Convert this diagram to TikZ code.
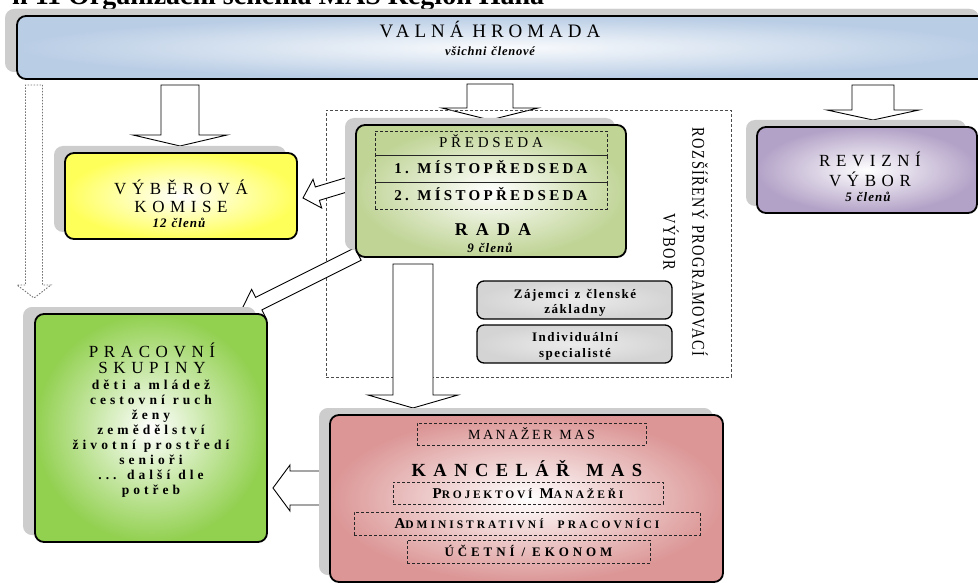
\documentclass[tikz,border=0pt]{standalone}
\usepackage{fontspec}
\setmainfont{Liberation Serif}
\newfontfamily\condf[FakeStretch=0.8,LetterSpace=8]{Liberation Serif}
\usetikzlibrary{shadows}
\definecolor{bannerc}{RGB}{185,205,229}
\definecolor{yellowc}{RGB}{255,255,90}
\definecolor{radac}{RGB}{192,212,150}
\definecolor{pracc}{RGB}{146,208,80}
\definecolor{kancc}{RGB}{220,150,150}
\definecolor{revc}{RGB}{179,162,199}
\definecolor{shadowc}{RGB}{205,205,205}
\definecolor{grayboxc}{RGB}{212,212,212}
\newcommand\fsc[2]{{\fontsize{15}{15}\selectfont #1}{\fontsize{11.5}{12}\selectfont #2}}
\newcommand\blockarr[8]{%
  \pgfmathsetmacro\bdx{#4-#2}%
  \pgfmathsetmacro\bmdy{#3-#5}%
  \pgfmathsetmacro\blen{veclen(\bdx,\bmdy)}%
  \pgfmathsetmacro\bang{atan2(\bmdy,\bdx)}%
  \pgfmathsetmacro\bneck{\blen-#8}%
  \begin{scope}[shift={(#2,#3)},rotate=\bang]
    \draw[#1] (0,-#6) -- (\bneck,-#6) -- (\bneck,-#7) -- (\blen,0) -- (\bneck,#7) -- (\bneck,#6) -- (0,#6) -- cycle;
  \end{scope}}
\tikzset{
  box/.style={draw=black, line width=1.8pt, rounded corners=9pt, inner sep=0pt,
    drop shadow={shadow xshift=-11pt, shadow yshift=7pt, fill=shadowc, opacity=1}},
  ttl/.style={inner sep=0pt, anchor=base, font={\fontsize{17}{20}\selectfont\addfontfeature{LetterSpace=33}}},
  cnt/.style={inner sep=0pt, anchor=base, font={\bfseries\itshape\fontsize{13}{14}\selectfont\addfontfeature{LetterSpace=8}\spaceskip=5pt\relax}},
  dbox/.style={draw=black!85, dash pattern=on 3pt off 2pt, line width=0.8pt, inner sep=0pt, text height=10pt, text depth=0pt},
  harrow/.style={draw=black, line width=0.9pt, fill=white, line join=miter},
  dotarrow/.style={draw=black!55, line width=0.9pt, dash pattern=on 1.5pt off 1.5pt},
  gbox/.style={draw=black, line width=1.3pt, rounded corners=7pt, inner sep=0pt, inner color=white!55!grayboxc, outer color=grayboxc},
  gtx/.style={inner sep=0pt, anchor=base, font={\bfseries\fontsize{13}{14}\selectfont\addfontfeature{LetterSpace=12}\spaceskip=6pt\relax}},
  pstx/.style={inner sep=0pt, anchor=base, font={\bfseries\fontsize{13.5}{14}\selectfont\addfontfeature{LetterSpace=30}\spaceskip=8pt\relax}},
}
\begin{document}
\begin{tikzpicture}[x=1pt,y=-1pt]
\useasboundingbox (0,0) rectangle (978,583);
% title (cut off at the top)
\node[anchor=base west, inner sep=0pt, font={\bfseries\fontsize{28}{30}\selectfont}] (title) at (12,5) {n 11 Organizační schéma MAS Region Haná};
% hollow arrows
\blockarr{dotarrow}{34}{85}{34}{298}{8.5}{17}{13}
\blockarr{harrow}{180}{85}{180}{146}{19}{47}{11}
\blockarr{harrow}{490}{84}{490}{120}{23}{48}{12}
\blockarr{harrow}{873}{85}{873}{120}{21}{46}{10}
% extended committee region
\node[draw=black!70, dash pattern=on 3pt off 2pt, line width=0.8pt, minimum width=405pt, minimum height=267pt, inner sep=0pt] (epv) at (528.5,243.5) {};
\node[rotate=-90, inner sep=0pt, font={\condf\fontsize{18}{18}\selectfont}] (epvt) at (700,242) {ROZŠÍŘENÝ PROGRAMOVACÍ};
\node[rotate=-90, inner sep=0pt, font={\condf\fontsize{18}{18}\selectfont}] (epvt2) at (671,242) {VÝBOR};
\blockarr{harrow}{356}{182}{303}{198}{7}{15}{15}
\blockarr{harrow}{358}{254}{240}{313}{7}{16}{21}
\blockarr{harrow}{413}{264}{413}{408}{20}{45}{13}
\blockarr{harrow}{328}{488}{273}{488}{17}{23}{17}
% Valna hromada
\node[box, drop shadow={shadow xshift=-12pt, shadow yshift=7pt, fill=shadowc, opacity=1}, minimum width=973pt, minimum height=63pt, inner color=white!92!bannerc, outer color=bannerc] (valna) at (503.5,47.5) {};
\node[inner sep=0pt, anchor=base, font={\fontsize{19}{22}\selectfont\addfontfeature{LetterSpace=26}\spaceskip=9pt\relax}] (valnat) at (490,38) {VALNÁ HROMADA};
\node[inner sep=0pt, anchor=base, font={\bfseries\itshape\fontsize{12.5}{13}\selectfont\addfontfeature{LetterSpace=6}\spaceskip=5pt\relax}] (valnac) at (490,56) {všichni členové};
% Vyberova komise
\node[box, minimum width=232pt, minimum height=86pt, inner color=white, outer color=yellowc] (vyb) at (181,196) {};
\node[ttl] (vybt1) at (181,194) {VÝBĚROVÁ};
\node[ttl] (vybt2) at (181,213) {KOMISE};
\node[cnt] (vybc) at (179,228) {12 členů};
% Revizni vybor
\node[box, minimum width=220pt, minimum height=86pt, inner color=white, outer color=revc] (rev) at (867,170) {};
\node[ttl] (revt1) at (870,167) {REVIZNÍ};
\node[ttl] (revt2) at (870,186) {VÝBOR};
\node[cnt] (revc) at (868,202) {5 členů};
% Rada
\node[box, minimum width=270pt, minimum height=132pt, inner color=white, outer color=radac] (rada) at (491,191) {};
\node[dbox, minimum width=232pt, minimum height=24pt, font={\fontsize{15}{15}\selectfont\addfontfeature{LetterSpace=25}}] (pred) at (491,143) {PŘEDSEDA};
\node[dbox, minimum width=232pt, minimum height=27pt, font={\bfseries\fontsize{15}{15}\selectfont\addfontfeature{LetterSpace=22}\spaceskip=6pt\relax}] (mist1) at (491,168.5) {1. MÍSTOPŘEDSEDA};
\node[dbox, minimum width=232pt, minimum height=27pt, font={\bfseries\fontsize{15}{15}\selectfont\addfontfeature{LetterSpace=22}\spaceskip=6pt\relax}] (mist2) at (491,195.5) {2. MÍSTOPŘEDSEDA};
\node[inner sep=0pt, anchor=base, font={\bfseries\fontsize{18}{18}\selectfont\addfontfeature{LetterSpace=45}}] (radat) at (493,235) {RADA};
\node[cnt] (radac) at (490,252) {9 členů};
% grey boxes
\node[gbox, minimum width=195pt, minimum height=38pt] (zaj) at (574.5,300) {};
\node[gtx] (zajt1) at (575,298) {Zájemci z členské};
\node[gtx] (zajt2) at (575,313) {základny};
\node[gbox, minimum width=195pt, minimum height=38pt] (ind) at (574.5,344) {};
\node[gtx] (indt1) at (575,341) {Individuální};
\node[gtx] (indt2) at (575,357) {specialisté};
% Pracovni skupiny
\node[box, drop shadow={shadow xshift=-12pt, shadow yshift=7pt, fill=shadowc, opacity=1}, minimum width=232pt, minimum height=228pt, inner color=white, outer color=pracc] (prac) at (151,428) {};
\node[ttl] (pract1) at (152,357) {PRACOVNÍ};
\node[ttl] (pract2) at (152,373) {SKUPINY};
\node[pstx] (ps1) at (151,389) {děti a mládež};
\node[pstx] (ps2) at (151,404) {cestovní ruch};
\node[pstx] (ps3) at (151,419) {ženy};
\node[pstx] (ps4) at (151,434) {zemědělství};
\node[pstx] (ps5) at (151,449) {životní prostředí};
\node[pstx] (ps6) at (151,464) {senioři};
\node[pstx] (ps7) at (151,479) {... další dle};
\node[pstx] (ps8) at (151,494) {potřeb};
% Kancelar MAS
\node[box, drop shadow={shadow xshift=-10pt, shadow yshift=7pt, fill=shadowc, opacity=1}, minimum width=393pt, minimum height=167pt, inner color=white, outer color=kancc] (kanc) at (526.5,498.5) {};
\node[dbox, minimum width=229pt, minimum height=22pt, font={\fontsize{14}{14}\selectfont\addfontfeature{LetterSpace=18}\spaceskip=7pt\relax}] (man) at (531.5,434) {MANAŽER MAS};
\node[inner sep=0pt, anchor=base, font={\bfseries\fontsize{18.5}{20}\selectfont\addfontfeature{LetterSpace=40}\spaceskip=17pt\relax}] (kanct) at (527,476) {KANCELÁŘ MAS};
\node[dbox, minimum width=270pt, minimum height=22pt, font={\bfseries\addfontfeature{LetterSpace=24}\spaceskip=7pt\relax}] (pm) at (528,493) {\fsc{P}{ROJEKTOVÍ} \fsc{M}{ANAŽEŘI}};
\node[dbox, minimum width=346pt, minimum height=23pt, font={\bfseries\addfontfeature{LetterSpace=26}\spaceskip=14pt\relax}] (ap) at (527,523.5) {\fsc{A}{DMINISTRATIVNÍ} \fsc{}{PRACOVNÍCI}};
\node[dbox, minimum width=243pt, minimum height=23pt, font={\bfseries\fontsize{13}{13}\selectfont\addfontfeature{LetterSpace=30}\spaceskip=7pt\relax}] (ue) at (528.5,551.5) {ÚČETNÍ / EKONOM};
\end{tikzpicture}
\end{document}
